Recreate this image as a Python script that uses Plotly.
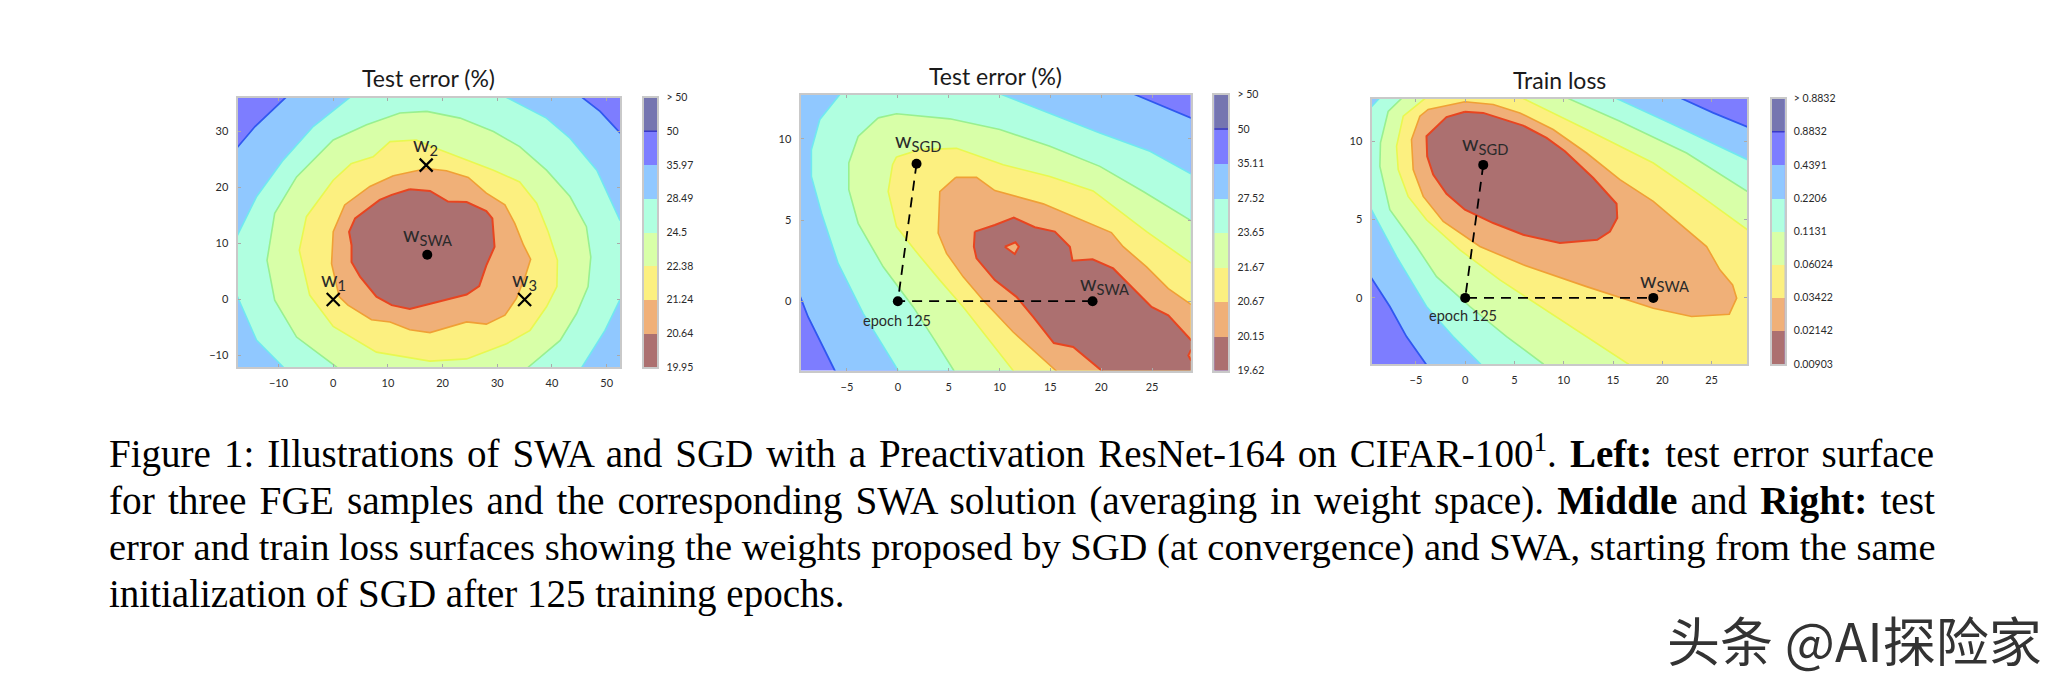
import plotly.graph_objects as go

W, H = 2071, 687

# ---------- shared colours (low -> high) ----------
BAND_COLORS = ["#ac7070", "#f0b078", "#fcf080", "#d8ffa8", "#b0ffe0", "#90c8ff", "#7d7dff", "#7575b0"]
EDGE_RED, EDGE_ORANGE, EDGE_YELLOW, EDGE_GREEN, EDGE_TEAL, EDGE_BLUE = (
    "#e84520", "#f0a035", "#e8f850", "#98f090", "#70e8f0", "#3058f0")

# ---------- left panel: test error surface ----------
left_levels = ["19.95", "20.64", "21.24", "22.38", "24.5", "28.49", "35.97", "50", "> 50"]
left_blue = [(-8.66,38),(-8.66,36.1),(-14.3,30.9),(-17.5,27.2),(-19,27.2),(-19,-14),(54,-14),(54,29.8),(52.4,29.8),(48.8,33.6),(45.5,36.1),(45.5,38)]
left_teal = [(3.05,38),(31.7,38),(31.7,36.1),(39.0,32.4),(43.3,28.8),(48.2,23.1),(52.4,14.2),(54,14.2),(54,-0.1),(52.4,-0.1),(49.7,-5.5),(45.5,-12.05),(45.5,-14),(-9.15,-14),(-9.15,-12.05),(-14.0,-7.3),(-17.5,0.5),(-19,0.5),(-19,11.5),(-17.5,11.5),(-14.0,18.4),(-9.15,24.9),(-3.66,30.9),(3.05,36.1)]
left_green = [(17.1,33.6),(23.2,32.4),(29.3,30.0),(34.1,27.3),(39.0,23.1),(43.3,18.4),(46.3,13.0),(47.1,7.6),(46.6,2.3),(44.5,-2.5),(41.5,-7.3),(35.7,-12.05),(35.7,-14),(0.6,-14),(0.6,-12.05),(-6.7,-6.7),(-10.7,-0.1),(-12.1,7.0),(-10.7,15.4),(-6.7,21.9),(0,28.5),(6.1,31.2),(12.2,33.3)]
left_yellow = [(3.35,24.3),(7.3,25.5),(10.4,28.2),(15.2,28.5),(18.3,27.2),(24.4,24.9),(29.3,23.1),(34.1,21.0),(37.2,17.2),(39.3,12.1),(41.0,7.0),(40.9,2.3),(39.0,-1.3),(36.0,-5.5),(31.7,-7.9),(24.4,-10.6),(17.7,-11.0),(7.9,-9.4),(0,-4.8),(-4.3,0.8),(-6.2,8.8),(-4.9,14.8),(0,21.3)]
left_orange = [(11.0,22.1),(17.1,23.4),(20.7,23.0),(24.7,21.8),(28.0,19.0),(31.4,16.9),(33.2,13.6),(34.8,9.7),(36.1,7.2),(35.1,4.1),(33.5,0.2),(31.4,-2.8),(28.0,-4.4),(24.4,-4.0),(17.7,-5.9),(14.0,-5.4),(10.4,-4.0),(7.0,-3.6),(2.7,-1.0),(1.1,0.5),(-0.3,6.4),(0,12.1),(2.1,16.9),(6.7,20.2)]
left_red = [(14.0,19.7),(17.7,19.4),(21.0,17.5),(24.4,17.4),(28.0,15.8),(29.1,14.5),(29.5,9.4),(28.0,6.1),(26.7,2.4),(24.4,0.9),(14.0,-1.7),(10.7,-1.0),(7.9,0.5),(4.9,4.1),(3.35,6.7),(3.35,9.7),(2.9,12.1),(4.0,14.5),(8.5,17.8),(10.7,18.7)]
left_fge_x, left_fge_y = [0, 17, 35], [0, 24, 0]
left_swa_x, left_swa_y = [17.2], [8]
left_xticks = [-10, 0, 10, 20, 30, 40, 50]
left_yticks = [-10, 0, 10, 20, 30]

# ---------- middle panel: test error surface ----------
mid_levels = ["19.62", "20.15", "20.67", "21.67", "23.65", "27.52", "35.11", "50", "> 50"]
mid_blue = [(23.3,14),(23.3,12.74),(28.8,11.3),(30,11.3),(30,-5),(-6.2,-5),(-6.2,-4.27),(-7.67,-2.41),(-8.82,-0.97),(-9.57,0.23),(-11,0.23),(-11,14)]
mid_teal = [(-5.7,14),(10.2,14),(10.2,12.74),(14.95,11.6),(19.87,10.37),(24.8,9.24),(28.8,7.86),(30,7.86),(30,-5),(0.03,-5),(0.03,-4.27),(-3.4,-0.76),(-5.87,2.33),(-7.5,5.42),(-8.5,7.69),(-8.5,9.34),(-7.67,11.2),(-5.7,12.74)]
mid_green = [(-1.93,11.3),(-0.13,11.55),(5.11,11.24),(10.03,10.58),(14.95,9.55),(19.87,8.31),(24.13,6.76),(28.8,4.97),(30,4.97),(30,-5),(5.51,-5),(5.51,-4.27),(3.64,-2.41),(1.51,-0.35),(-1.44,2.12),(-3.9,4.8),(-4.82,6.87),(-4.82,8.52),(-3.9,10.16)]
mid_yellow = [(-0.13,8.89),(2.16,9.34),(5.77,9.42),(10.36,8.41),(14.95,7.69),(19.2,6.8),(21.2,5.84),(24.46,4.29),(28.8,2.37),(30,2.37),(30,-5),(11.34,-5),(11.34,-4.27),(9.05,-2.41),(6.43,-0.35),(4.13,1.3),(1.67,3.15),(-0.13,4.6),(-0.95,6.76),(-0.52,8.41)]
mid_orange = [(5.7,7.63),(7.74,7.63),(9.54,6.82),(14.3,6.0),(21.0,4.23),(22.16,3.36),(24.46,2.12),(26.6,0.78),(28.8,-0.19),(30,-0.19),(30,-5),(15.54,-5),(15.54,-4.27),(11.34,-1.9),(8.39,0.06),(6.43,1.5),(4.79,2.95),(3.97,4.19),(4.13,6.76)]
mid_red = [(7.57,4.29),(9.54,4.7),(11.41,5.15),(13.48,4.56),(15.44,4.29),(16.92,3.36),(17.18,2.49),(19.15,2.58),(21.18,2.02),(23.15,0.78),(24.95,-0.35),(26.6,-0.87),(28.8,-2.37),(30,-2.37),(30,-5),(20.03,-5),(20.03,-4.27),(17.25,-2.82),(15.34,-2.58),(13.31,-0.97),(11.67,0.27),(9.54,1.3),(7.74,2.64),(7.48,3.36)]
mid_hole = [(10.52,3.36),(11.57,3.63),(11.9,3.36),(11.5,2.91)]
mid_edge_hole = [(29.5,-3.03),(28.8,-3.03),(28.57,-3.34),(28.8,-3.6),(29.5,-3.6)]
mid_pts_x, mid_pts_y = [0, 1.84, 19.15], [0, 8.47, 0]
mid_xticks = [-5, 0, 5, 10, 15, 20, 25]
mid_yticks = [0, 5, 10]

# ---------- right panel: train loss surface ----------
right_levels = ["0.00903", "0.02142", "0.03422", "0.06024", "0.1131", "0.2206", "0.4391", "0.8832", "> 0.8832"]
right_blue = [(21.96,14),(21.96,12.73),(25.18,11.81),(28.63,10.92),(30,10.92),(30,-6),(-3.99,-6),(-3.99,-4.22),(-5.96,-2.47),(-7.65,-0.55),(-9.51,1.26),(-11,1.26),(-11,14)]
right_teal = [(-8.73,14),(15.36,14),(15.36,12.73),(20.78,11.17),(28.63,8.83),(30,8.83),(30,-6),(1.56,-6),(1.56,-4.22),(-1.22,-2.47),(-3.93,-0.55),(-6.97,2.64),(-9.51,5.63),(-11,5.63),(-11,12.2),(-9.51,12.2),(-8.73,12.73)]
right_green = [(-6.46,14),(10.46,14),(10.46,12.73),(15.7,11.28),(22.47,9.25),(28.63,6.8),(30,6.8),(30,-6),(7.92,-6),(7.92,-4.22),(4.2,-2.47),(0.47,-0.55),(-2.91,1.36),(-4.94,3.28),(-7.65,5.63),(-8.66,8.4),(-8.6,9.9),(-7.82,11.9),(-6.46,12.73)]
right_yellow = [(-4.09,14),(5.89,14),(5.89,12.73),(12.32,10.75),(19.09,8.61),(23.49,6.7),(28.63,4.35),(30,4.35),(30,-6),(16.55,-6),(16.55,-4.22),(12.32,-2.47),(7.58,-0.55),(3.52,1.15),(-0.54,3.07),(-3.93,4.99),(-5.79,6.48),(-6.8,8.19),(-6.97,9.68),(-6.29,11.6),(-4.09,12.73)]
right_orange = [(-0.03,12.52),(2.84,12.35),(5.55,11.81),(8.93,10.75),(12.32,9.25),(15.7,7.55),(19.09,6.16),(22.81,4.14),(24.5,3.28),(25.85,1.79),(27.14,0.83),(27.55,-0.02),(26.8,-1.04),(22.98,-1.19),(19.09,-0.66),(12.32,0.72),(5.89,2.11),(1.49,3.28),(-2.23,4.88),(-4.26,6.48),(-5.28,8.19),(-5.45,10.11),(-4.6,11.6),(-3.76,12.03)]
right_red = [(-0.03,11.88),(1.83,11.81),(5.89,11.0),(8.26,10.21),(10.12,9.36),(13.0,7.65),(15.36,6.01),(15.43,5.1),(14.69,4.24),(13.4,3.71),(9.61,3.5),(5.89,4.03),(2.84,4.78),(-0.03,5.63),(-1.9,6.65),(-3.25,7.87),(-3.86,9.04),(-3.93,10.32),(-1.9,11.54)]
right_pts_x, right_pts_y = [0, 1.83, 19.09], [0, 8.49, 0]
right_xticks = [-5, 0, 5, 10, 15, 20, 25]
right_yticks = [0, 5, 10]

caption_lines = [
    "Figure 1: Illustrations of SWA and SGD with a Preactivation ResNet-164 on CIFAR-100<sup>1</sup>. <b>Left:</b> test error surface",
    "for three FGE samples and the corresponding SWA solution (averaging in weight space). <b>Middle</b> and <b>Right:</b> test",
    "error and train loss surfaces showing the weights proposed by SGD (at convergence) and SWA, starting from the same",
    "initialization of SGD after 125 training epochs.",
]
HAIR = "\u200a"

# ---------- layout helpers ----------
FONT = "Lato"
TXT = "#2a2a2a"
FRAME = "#c9c9c9"
fig = go.Figure()
layout = {}
annots = []


def dom_x(a, b):
    return [a / W, b / W]


def dom_y(top, bottom):
    return [1 - bottom / H, 1 - top / H]


def ax_name(prefix, i):
    return f"{prefix}axis{i if i > 1 else ''}", f"{prefix}{i if i > 1 else ''}"


def fill(poly, color, edge, i, lw=1.6):
    xs, ys = zip(*poly)
    fig.add_trace(go.Scatter(x=list(xs) + [xs[0]], y=list(ys) + [ys[0]], mode="lines", fill="toself",
                             fillcolor=color, line=dict(color=edge, width=lw),
                             xaxis=ax_name("x", i)[1], yaxis=ax_name("y", i)[1],
                             showlegend=False, hoverinfo="skip"))


def panel(i, px, py, xr, yr, xt, yt, polys):
    kx, _ = ax_name("x", i)
    ky, _ = ax_name("y", i)
    common = dict(showgrid=False, zeroline=False, showline=True, mirror="allticks", linecolor=FRAME, linewidth=2,
                  ticks="inside", ticklen=3, tickcolor="#aaaaaa", tickwidth=1,
                  tickfont=dict(family=FONT, size=11, color=TXT))
    layout[kx] = dict(domain=dom_x(*px), range=xr, tickvals=xt, anchor=f"y{i if i > 1 else ''}", ticklabelstandoff=5, **common)
    layout[ky] = dict(domain=dom_y(*py), range=yr, tickvals=yt, anchor=f"x{i if i > 1 else ''}", ticklabelstandoff=5, **common)
    for poly, color, edge, lw in polys:
        fill(poly, color, edge, i, lw)


def colorbar(i, px, py, labels, size=10.5):
    kx, xn = ax_name("x", i)
    ky, yn = ax_name("y", i)
    layout[kx] = dict(domain=dom_x(*px), range=[-0.5, 0.5], showticklabels=False, ticks="", showgrid=False, zeroline=False,
                      showline=True, mirror=True, linecolor=FRAME, linewidth=2, anchor=yn)
    layout[ky] = dict(domain=dom_y(*py), range=[0, 8], side="right", tickvals=list(range(9)), ticktext=labels,
                      showgrid=False, zeroline=False, showline=True, mirror=True, linecolor=FRAME, linewidth=2,
                      ticks="", ticklabelstandoff=5, tickfont=dict(family=FONT, size=size, color=TXT), anchor=xn)
    for c in BAND_COLORS:
        fig.add_trace(go.Bar(x=[0], y=[1], width=1, marker=dict(color=c, line=dict(width=0)), xaxis=xn, yaxis=yn,
                             showlegend=False, hoverinfo="skip"))
    fig.add_trace(go.Scatter(x=[-0.5, 0.5], y=[7, 7], mode="lines", line=dict(color="#3a3ac8", width=1.5),
                             xaxis=xn, yaxis=yn, showlegend=False, hoverinfo="skip"))


def dots(i, xs, ys, symbol="circle"):
    m = dict(color="black", size=10) if symbol == "circle" else dict(symbol="x-thin", size=13, color="black", line=dict(color="black", width=2.2))
    fig.add_trace(go.Scatter(x=xs, y=ys, mode="markers", marker=m, xaxis=ax_name("x", i)[1], yaxis=ax_name("y", i)[1],
                             showlegend=False, hoverinfo="skip"))


def dashes(i, xs, ys):
    fig.add_trace(go.Scatter(x=xs, y=ys, mode="lines", line=dict(color="black", width=1.8, dash="10px,7px"),
                             xaxis=ax_name("x", i)[1], yaxis=ax_name("y", i)[1], showlegend=False, hoverinfo="skip"))


def label(i, x, y, text, size=21):
    annots.append(dict(x=x, y=y, xref=ax_name("x", i)[1], yref=ax_name("y", i)[1], text=text, showarrow=False,
                       xanchor="center", yanchor="middle", font=dict(family=FONT, size=size, color=TXT)))


def title(px, py, text):
    annots.append(dict(x=px / W, y=1 - py / H, xref="paper", yref="paper", text=text, showarrow=False,
                       xanchor="center", yanchor="middle", font=dict(family=FONT, size=23, color="#1a1a1a")))


def stack(blue, teal, green, yellow, orange, red):
    return [(blue, BAND_COLORS[5], EDGE_BLUE, 1.8), (teal, BAND_COLORS[4], EDGE_TEAL, 1.6), (green, BAND_COLORS[3], EDGE_GREEN, 1.6),
            (yellow, BAND_COLORS[2], EDGE_YELLOW, 1.6), (orange, BAND_COLORS[1], EDGE_ORANGE, 1.6), (red, BAND_COLORS[0], EDGE_RED, 2)]


# left
panel(1, (237.5, 620), (97.5, 367), [-17.5, 52.44], [-12.05, 36.08], left_xticks, left_yticks,
      stack(left_blue, left_teal, left_green, left_yellow, left_orange, left_red))
dots(1, left_fge_x, left_fge_y, "x")
dots(1, left_swa_x, left_swa_y)
label(1, 17.2, 11.5, "w<sub>SWA</sub>")
label(1, 0, 3.5, "w<sub>1</sub>")
label(1, 16.8, 27.6, "w<sub>2</sub>")
label(1, 34.9, 3.5, "w<sub>3</sub>")
title(428, 78, "Test error (%)")
colorbar(2, (644, 657.3), (97.5, 367), left_levels)

# middle
panel(3, (800.5, 1190.7), (94.5, 370.5), [-9.57, 28.8], [-4.27, 12.74], mid_xticks, mid_yticks,
      stack(mid_blue, mid_teal, mid_green, mid_yellow, mid_orange, mid_red)
      + [(mid_hole, BAND_COLORS[1], EDGE_RED, 2), (mid_edge_hole, BAND_COLORS[1], EDGE_RED, 2)])
dashes(3, [mid_pts_x[1], mid_pts_x[0], mid_pts_x[2]], [mid_pts_y[1], mid_pts_y[0], mid_pts_y[2]])
dots(3, mid_pts_x, mid_pts_y)
label(3, 2.0, 9.86, "w<sub>SGD</sub>")
label(3, 20.36, 1.09, "w<sub>SWA</sub>")
label(3, -0.13, -1.18, "epoch 125", 14.5)
title(995, 76, "Test error (%)")
colorbar(4, (1214.3, 1228.3), (94.5, 370.5), mid_levels)

# right
panel(5, (1371.5, 1747.3), (98.5, 364), [-9.51, 28.63], [-4.22, 12.73], right_xticks, right_yticks,
      stack(right_blue, right_teal, right_green, right_yellow, right_orange, right_red))
dashes(5, [right_pts_x[1], right_pts_x[0], right_pts_x[2]], [right_pts_y[1], right_pts_y[0], right_pts_y[2]])
dots(5, right_pts_x, right_pts_y)
label(5, 2.0, 9.85, "w<sub>SGD</sub>")
label(5, 20.27, 1.11, "w<sub>SWA</sub>")
label(5, -0.2, -1.15, "epoch 125", 14.5)
title(1559, 80, "Train loss")
colorbar(6, (1771.7, 1784.7), (98.5, 364), right_levels)

# caption (hair spaces widen the word gaps of the justified lines)
for n, (line, cy, size) in enumerate(zip(caption_lines, [451.5, 500.5, 547.5, 593.5], [39.05, 39.3, 38.55, 39])):
    text = line.replace(" ", " " + HAIR) if n < 2 else line
    annots.append(dict(x=107 / W, y=1 - cy / H, xref="paper", yref="paper", text=text, showarrow=False, xanchor="left",
                       yanchor="middle", align="left", font=dict(family="Liberation Serif", size=size, color="#000000")))

# watermark
annots.append(dict(x=1854 / W, y=1 - 639 / H, xref="paper", yref="paper", text="头条 @AI探险家", showarrow=False,
                   xanchor="center", yanchor="middle", font=dict(family="Noto Sans CJK SC", size=53, color="#333333")))

fig.update_layout(width=W, height=H, margin=dict(l=0, r=0, t=0, b=0, pad=0, autoexpand=False), paper_bgcolor="white",
                  plot_bgcolor=BAND_COLORS[6], barmode="stack", bargap=0, showlegend=False, annotations=annots, **layout)
fig.write_html("out.html", config={"displayModeBar": False},
               post_script="document.body.style.margin='0';document.body.style.overflow='hidden';")
